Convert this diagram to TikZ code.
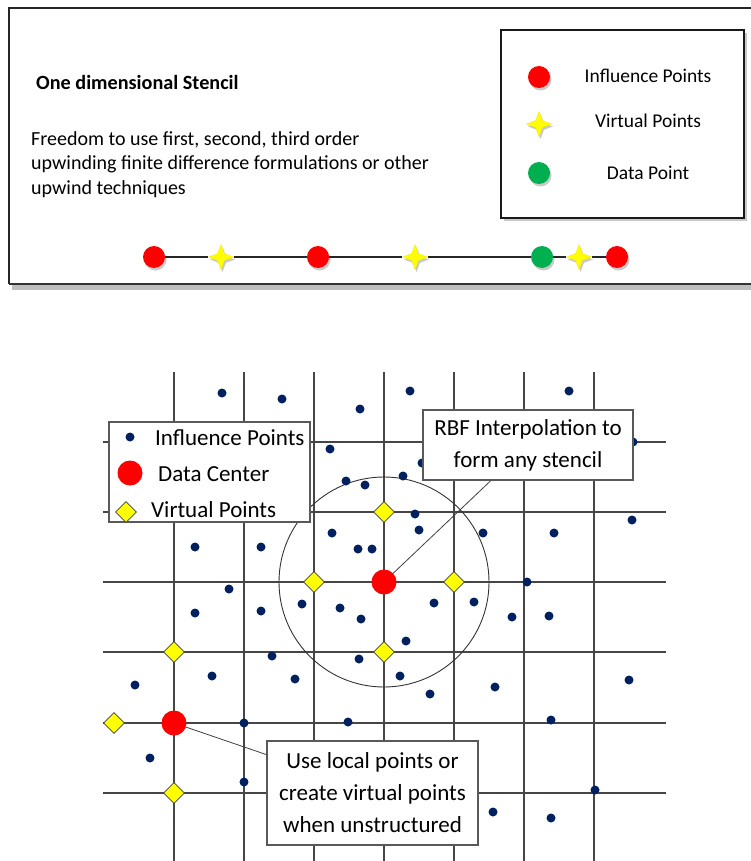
\documentclass[tikz,border=0pt]{standalone}
\usepackage{fontspec}
\setmainfont{Carlito}
\usetikzlibrary{shapes.geometric,shadows,calc}
\definecolor{ptred}{RGB}{255,0,0}
\definecolor{ptgreen}{RGB}{0,176,80}
\definecolor{ptyellow}{RGB}{255,255,0}
\definecolor{ptnavy}{RGB}{0,32,96}
\definecolor{gridgray}{RGB}{70,70,70}
\tikzset{
  topfont/.style={font=\fontsize{19.5}{24}\selectfont},
  bodyfont/.style={font=\fontsize{20}{24}\selectfont},
  botfont/.style={font=\fontsize{23}{32}\selectfont},
  softshadow/.style={drop shadow={shadow xshift=1.5pt, shadow yshift=-2.5pt, opacity=0.35, fill=black!60}},
  inflpt/.style={circle, fill=ptred, minimum size=22, inner sep=0pt, softshadow},
  datapt/.style={circle, fill=ptgreen, minimum size=22, inner sep=0pt, softshadow},
  virtpt/.style={star, star points=4, star point ratio=2.6, fill=ptyellow, draw=ptyellow!80!orange, line width=0.3pt, minimum size=25, inner sep=0pt, softshadow},
  navydot/.style={circle, fill=ptnavy, minimum size=9, inner sep=0pt},
  vdiam/.style={diamond, fill=ptyellow, draw=black!75, line width=0.6pt, minimum width=21, minimum height=21, inner sep=0pt},
  redctr/.style={circle, fill=ptred, minimum size=25, inner sep=0pt},
  gridline/.style={draw=gridgray, line width=1.4pt},
  callout/.style={draw=black!65, line width=1.2pt, fill=white, inner sep=0pt, align=center, botfont},
  leader/.style={draw=black!75, line width=0.8pt}
}
\begin{document}
\begin{tikzpicture}[x=1pt,y=-1pt]
\useasboundingbox (0,0) rectangle (751,861);
\clip (0,0) rectangle (751,861);

% ---------- top panel ----------
\fill[black!25] (12,284) rectangle (770,290);
\draw[draw=black!85, line width=1.6pt] (9,284) -- (9,8) -- (770,8);
\draw[draw=black!80, line width=2pt] (9,284) -- (770,284);

\node[font=\fontsize{20.2}{24}\selectfont\bfseries, anchor=base west, inner sep=0pt] (title) at (36,90) {One dimensional Stencil};
\node[bodyfont, anchor=base west, inner sep=0pt] (txa) at (31,146) {Freedom to use first, second, third order};
\node[bodyfont, anchor=base west, inner sep=0pt] (txb) at (31,170) {upwinding finite difference formulations or other};
\node[bodyfont, anchor=base west, inner sep=0pt] (txc) at (31,194) {upwind techniques};

% legend box
\node[draw=black!90, line width=1.3pt, fill=white, minimum width=243, minimum height=188, inner sep=0pt,
      drop shadow={shadow xshift=3pt, shadow yshift=-3pt, opacity=0.3, fill=black!70}] (leg1) at (622.5,124) {};
\node[inflpt] (l1a) at (539,77) {};
\node[virtpt] (l1b) at (539,124) {};
\node[datapt] (l1c) at (539,173) {};
\node[topfont, anchor=base, inner sep=0pt] (l1at) at (648,83) {Influence Points};
\node[topfont, anchor=base, inner sep=0pt] (l1bt) at (648,128) {Virtual Points};
\node[topfont, anchor=base, inner sep=0pt] (l1ct) at (648,179) {Data Point};

% stencil
\node[inflpt] (s1) at (154,257) {};
\node[virtpt] (s2) at (221,257) {};
\node[inflpt] (s3) at (318,257) {};
\node[virtpt] (s4) at (415,257) {};
\node[datapt] (s5) at (542,257) {};
\node[virtpt] (s6) at (579,257) {};
\node[inflpt] (s7) at (617,257) {};
\draw[draw=black!85, line width=1.2pt] (s1) -- (s2) -- (s3) -- (s4) -- (s5) -- (s6) -- (s7);

% ---------- bottom panel ----------
\foreach \gx in {174,244,314,384,454,524,594}
  \draw[gridline] (\gx,372) -- (\gx,870);
\foreach \gy in {442,512,582,652,723,793}
  \draw[gridline] (103,\gy) -- (666,\gy);

\draw[draw=black!80, line width=0.9pt] (384,582) circle[radius=105];

\foreach \dx/\dy in {222/393,282/399,360/409,410/391,569/391,633/442,330/449,422/463,403/476,346/481,
  365/485,415/514,419/530,483/533,554/533,632/520,195/547,261/547,332/533,358/549,372/549,527/582,
  434/603,474/602,229/589,195/613,261/611,302/604,340/608,361/619,406/641,512/617,549/616,272/656,
  359/659,212/676,295/679,400/676,135/685,430/694,495/687,629/680,244/723,348/722,551/720,150/758,
  244/782,595/790,493/812,551/818}
  \node[navydot] at (\dx,\dy) {};

\node[vdiam] (v1) at (384,512) {};
\node[vdiam] (v2) at (314,582) {};
\node[vdiam] (v3) at (454,582) {};
\node[vdiam] (v4) at (384,652) {};
\node[vdiam] (v5) at (174,652) {};
\node[vdiam] (v6) at (114,723) {};
\node[vdiam] (v7) at (174,793) {};

\node[redctr] (dc) at (384,582) {};
\node[redctr] (dc2) at (174,723) {};

% legend 2
\node[draw=black!65, line width=1.3pt, fill=white, minimum width=201, minimum height=100, inner sep=0pt] (leg2) at (209.5,472) {};
\node[navydot] (l2a) at (130,437) {};
\node[redctr] (l2b) at (130,473) {};
\node[vdiam] (l2c) at (126,512) {};
\node[botfont, anchor=base west, inner sep=0pt] (l2at) at (155,445) {Influence Points};
\node[botfont, anchor=base west, inner sep=0pt] (l2bt) at (158,481) {Data Center};
\node[botfont, anchor=base west, inner sep=0pt] (l2ct) at (151,517) {Virtual Points};

% callouts
\node[callout, minimum width=210, minimum height=70] (rbf) at (528,445) {RBF Interpolation to\\form any stencil};
\node[callout, minimum width=211, minimum height=104] (usebox) at (372.5,793) {Use local points or\\create virtual points\\when unstructured};

\draw[leader] (dc) -- ($(rbf.south west)!0.324!(rbf.south east)$);
\draw[leader] (dc2) -- ($(usebox.north west)!0.135!(usebox.south west)$);
\end{tikzpicture}
\end{document}
